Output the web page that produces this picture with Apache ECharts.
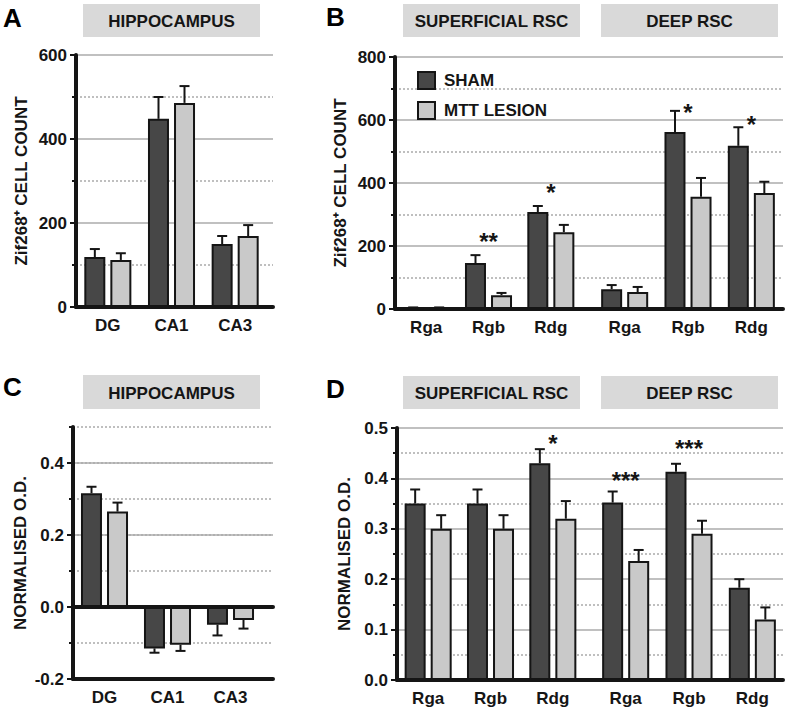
<!DOCTYPE html>
<html><head><meta charset="utf-8">
<script src="https://cdn.jsdelivr.net/npm/echarts@6/dist/echarts.min.js"></script>
<style>html,body{margin:0;padding:0;background:#fff}#c{width:787px;height:713px}</style>
</head><body><div id="c"></div>
<script>
// ---------- DATA ----------
const hippoCats = ['DG', 'CA1', 'CA3'];
const rscCats = ['Rga', 'Rgb', 'Rdg'];
const seriesNames = ['SHAM', 'MTT LESION'];

// Panel A: Zif268+ cell count, hippocampus
const aSham = [119, 448, 150];
const aShamErr = [19, 52, 19];
const aLesion = [112, 486, 169];
const aLesionErr = [16, 40, 26];

// Panel B: Zif268+ cell count, RSC
const bSupSham = [4, 146, 308];
const bSupShamErr = [1, 25, 19];
const bSupLesion = [4, 44, 244];
const bSupLesionErr = [1, 7, 23];
const bDeepSham = [63, 562, 518];
const bDeepShamErr = [13, 67, 59];
const bDeepLesion = [54, 356, 368];
const bDeepLesionErr = [16, 60, 36];
const bSupStars = ['', '**', '*'];
const bSupStarAt = [null, 229, 387];
const bDeepStars = ['', '*', '*'];
const bDeepStarAt = [null, 641, 603];

// Panel C: normalised O.D., hippocampus
const cSham = [0.316, -0.115, -0.049];
const cShamErr = [0.018, 0.012, 0.030];
const cLesion = [0.265, -0.105, -0.036];
const cLesionErr = [0.025, 0.017, 0.024];

// Panel D: normalised O.D., RSC
const dSupSham = [0.35, 0.35, 0.43];
const dSupShamErr = [0.028, 0.028, 0.028];
const dSupLesion = [0.30, 0.30, 0.32];
const dSupLesionErr = [0.027, 0.027, 0.035];
const dDeepSham = [0.352, 0.413, 0.183];
const dDeepShamErr = [0.022, 0.016, 0.017];
const dDeepLesion = [0.236, 0.29, 0.12];
const dDeepLesionErr = [0.022, 0.026, 0.024];
const dSupStars = ['', '', '*'];
const dSupStarAt = [null, null, 0.48];
const dDeepStars = ['***', '***', ''];
const dDeepStarAt = [0.405, 0.47, null];

// ---------- STYLE ----------
const FONT = '"Liberation Sans", Arial, Helvetica, sans-serif';
const DARK = '#474747', LIGHT = '#c9c9c9', GRIDC = '#ababab', INK = '#151515', BOX = '#d9d9d9';
const BW = 21, GAP = '24%', OFF = 13;

function grid(left, top, width, height) { return { left, top, width, height, containLabel: false }; }
const grids = [
  grid(76, 55, 197, 252),   // 0 A bg
  grid(76, 55, 191, 252),   // 1 A
  grid(395, 57, 388, 252),  // 2 B bg
  grid(395, 57, 187, 252),  // 3 B sup
  grid(593, 57, 190, 252),  // 4 B deep
  grid(73, 427, 200, 252),  // 5 C bg (dotted)
  grid(73, 463, 200, 216),  // 6 C solid
  grid(73, 427, 189, 252),  // 7 C
  grid(397, 428, 386, 252), // 8 D bg
  grid(397, 428, 187, 252), // 9 D sup
  grid(594, 428, 190, 252)  // 10 D deep
];

const labelText = { fontSize: 17, fontWeight: 'bold', color: INK, fontFamily: FONT };

function bgX(gi, onZero) {
  return { type: 'category', gridIndex: gi, data: [''],
    axisLine: { show: true, onZero: onZero, lineStyle: { color: INK, width: 4 } },
    axisTick: { show: false }, axisLabel: { show: false }, splitLine: { show: false } };
}
function catX(gi, cats) {
  return { type: 'category', gridIndex: gi, data: cats,
    axisLine: { show: false }, axisTick: { show: false }, splitLine: { show: false },
    axisLabel: Object.assign({ margin: 10 }, labelText) };
}
function hidY(gi, min, max) { return { type: 'value', gridIndex: gi, min, max, show: false }; }
function bgY(gi, min, max, interval, name, nameGap, fmt) {
  return { type: 'value', gridIndex: gi, min, max, interval,
    axisLine: { show: true, onZero: false, lineStyle: { color: INK, width: 4 } },
    axisTick: { show: true, length: 6, lineStyle: { color: INK, width: 2 } },
    axisLabel: Object.assign({ margin: 9, formatter: fmt }, labelText),
    splitLine: { show: true, lineStyle: { color: GRIDC, width: 1.5 } },
    minorTick: { show: true, splitNumber: 2, length: 4, lineStyle: { color: INK, width: 2 } },
    minorSplitLine: { show: true, lineStyle: { color: GRIDC, width: 1.5, type: [2, 2] } },
    name, nameLocation: 'middle', nameRotate: 90, nameGap,
    nameTextStyle: { fontSize: 17, fontWeight: 'bold', color: INK, fontFamily: FONT } };
}
const intFmt = v => String(Math.round(v));
const decFmt = v => v.toFixed(1);

const xAxes = [
  bgX(0, false), catX(1, hippoCats),
  bgX(2, false), catX(3, rscCats), catX(4, rscCats),
  bgX(5, false), bgX(6, true), catX(7, hippoCats),
  bgX(8, false), catX(9, rscCats), catX(10, rscCats)
];

const cDotY = {
  type: 'value', gridIndex: 5, min: -0.2, max: 0.5, interval: 0.1,
  axisLine: { show: true, onZero: false, lineStyle: { color: INK, width: 4 } },
  axisTick: { show: true, length: 4, lineStyle: { color: INK, width: 2 } },
  axisLabel: { show: false },
  splitLine: { show: true, lineStyle: { color: GRIDC, width: 1.5, type: [2, 2] } },
  name: 'NORMALISED O.D.', nameLocation: 'middle', nameRotate: 90, nameGap: 44,
  nameTextStyle: { fontSize: 17, fontWeight: 'bold', color: INK, fontFamily: FONT }
};
const cSolidY = {
  type: 'value', gridIndex: 6, min: -0.2, max: 0.4, interval: 0.2,
  axisLine: { show: false },
  axisTick: { show: true, length: 6, lineStyle: { color: INK, width: 2 } },
  axisLabel: Object.assign({ margin: 9, formatter: decFmt }, labelText),
  splitLine: { show: true, lineStyle: { color: GRIDC, width: 1.5 } }
};

const yAxes = [
  bgY(0, 0, 600, 200, 'Zif268⁺ CELL COUNT', 46, intFmt), hidY(1, 0, 600),
  bgY(2, 0, 800, 200, 'Zif268⁺ CELL COUNT', 46, intFmt), hidY(3, 0, 800), hidY(4, 0, 800),
  cDotY, cSolidY, hidY(7, -0.2, 0.5),
  bgY(8, 0, 0.5, 0.1, 'NORMALISED O.D.', 44, decFmt), hidY(9, 0, 0.5), hidY(10, 0, 0.5)
];

function barSeries(name, idx, data, color) {
  return { type: 'bar', name, xAxisIndex: idx, yAxisIndex: idx, data, barWidth: BW, barGap: GAP,
    itemStyle: { color, borderColor: INK, borderWidth: 2 }, silent: true, z: 2 };
}
function errSeries(idx, vals, errs, off) {
  return { type: 'custom', xAxisIndex: idx, yAxisIndex: idx, silent: true, z: 3,
    data: vals.map((v, i) => [i, v, errs[i]]),
    renderItem(params, api) {
      const c = api.value(0), v = api.value(1), e = api.value(2);
      const end = v >= 0 ? v + e : v - e;
      const p0 = api.coord([c, v]), p1 = api.coord([c, end]);
      const x = p0[0] + off;
      const st = { stroke: INK, lineWidth: 2 };
      return { type: 'group', children: [
        { type: 'line', shape: { x1: x, y1: p0[1], x2: x, y2: p1[1] }, style: st },
        { type: 'line', shape: { x1: x - 5, y1: p1[1], x2: x + 5, y2: p1[1] }, style: st }
      ] };
    } };
}
function starSeries(idx, stars, at) {
  const items = stars.map((s, i) => [i, at[i], s]).filter(d => d[2]);
  return { type: 'custom', xAxisIndex: idx, yAxisIndex: idx, silent: true, z: 4,
    data: items.map(d => [d[0], d[1]]),
    renderItem(params, api) {
      const p = api.coord([api.value(0), api.value(1)]);
      return { type: 'text', x: p[0], y: p[1] + 5,
        style: { text: items[params.dataIndex][2], font: 'bold 24px ' + FONT, fill: INK,
          textAlign: 'center', textVerticalAlign: 'middle', align: 'center', verticalAlign: 'middle' } };
    } };
}
function panel(idx, sham, shamErr, lesion, lesionErr) {
  return [
    barSeries(seriesNames[0], idx, sham, DARK), barSeries(seriesNames[1], idx, lesion, LIGHT),
    errSeries(idx, sham, shamErr, -OFF), errSeries(idx, lesion, lesionErr, OFF)
  ];
}

const series = [].concat(
  panel(1, aSham, aShamErr, aLesion, aLesionErr),
  panel(3, bSupSham, bSupShamErr, bSupLesion, bSupLesionErr), [starSeries(3, bSupStars, bSupStarAt)],
  panel(4, bDeepSham, bDeepShamErr, bDeepLesion, bDeepLesionErr), [starSeries(4, bDeepStars, bDeepStarAt)],
  panel(7, cSham, cShamErr, cLesion, cLesionErr),
  panel(9, dSupSham, dSupShamErr, dSupLesion, dSupLesionErr), [starSeries(9, dSupStars, dSupStarAt)],
  panel(10, dDeepSham, dDeepShamErr, dDeepLesion, dDeepLesionErr), [starSeries(10, dDeepStars, dDeepStarAt)]
);

function header(x, y, w, h, text) {
  return [
    { type: 'rect', shape: { x, y, width: w, height: h }, style: { fill: BOX }, silent: true },
    { type: 'text', x: x + w / 2, y: y + h / 2 + 1, silent: true,
      style: { text, font: 'bold 17px ' + FONT, fill: INK, textAlign: 'center', textVerticalAlign: 'middle' } }
  ];
}
function letter(x, y, text) {
  return { type: 'text', x, y, silent: true,
    style: { text, font: 'bold 26px ' + FONT, fill: '#000', textAlign: 'left', textVerticalAlign: 'middle' } };
}

const graphic = [].concat(
  header(83, 4, 177, 33, 'HIPPOCAMPUS'),
  header(403, 4, 177, 33, 'SUPERFICIAL RSC'),
  header(601, 4, 177, 33, 'DEEP RSC'),
  header(83, 375, 177, 34, 'HIPPOCAMPUS'),
  header(403, 376, 177, 33, 'SUPERFICIAL RSC'),
  header(601, 376, 177, 33, 'DEEP RSC'),
  [letter(3, 18, 'A'), letter(326, 17, 'B'), letter(3, 387, 'C'), letter(326, 389, 'D')]
);

const chart = echarts.init(document.getElementById('c'), null, { renderer: 'svg' });
chart.setOption({
  animation: false,
  backgroundColor: '#fff',
  grid: grids,
  xAxis: xAxes,
  yAxis: yAxes,
  legend: {
    data: seriesNames, orient: 'vertical', left: 412, top: 66, itemWidth: 17, itemHeight: 17, itemGap: 11,
    icon: 'rect', selectedMode: false,
    textStyle: { fontSize: 17, fontWeight: 'bold', color: INK, fontFamily: FONT, padding: [0, 0, 0, 4] }
  },
  graphic,
  series
});
</script></body></html>
